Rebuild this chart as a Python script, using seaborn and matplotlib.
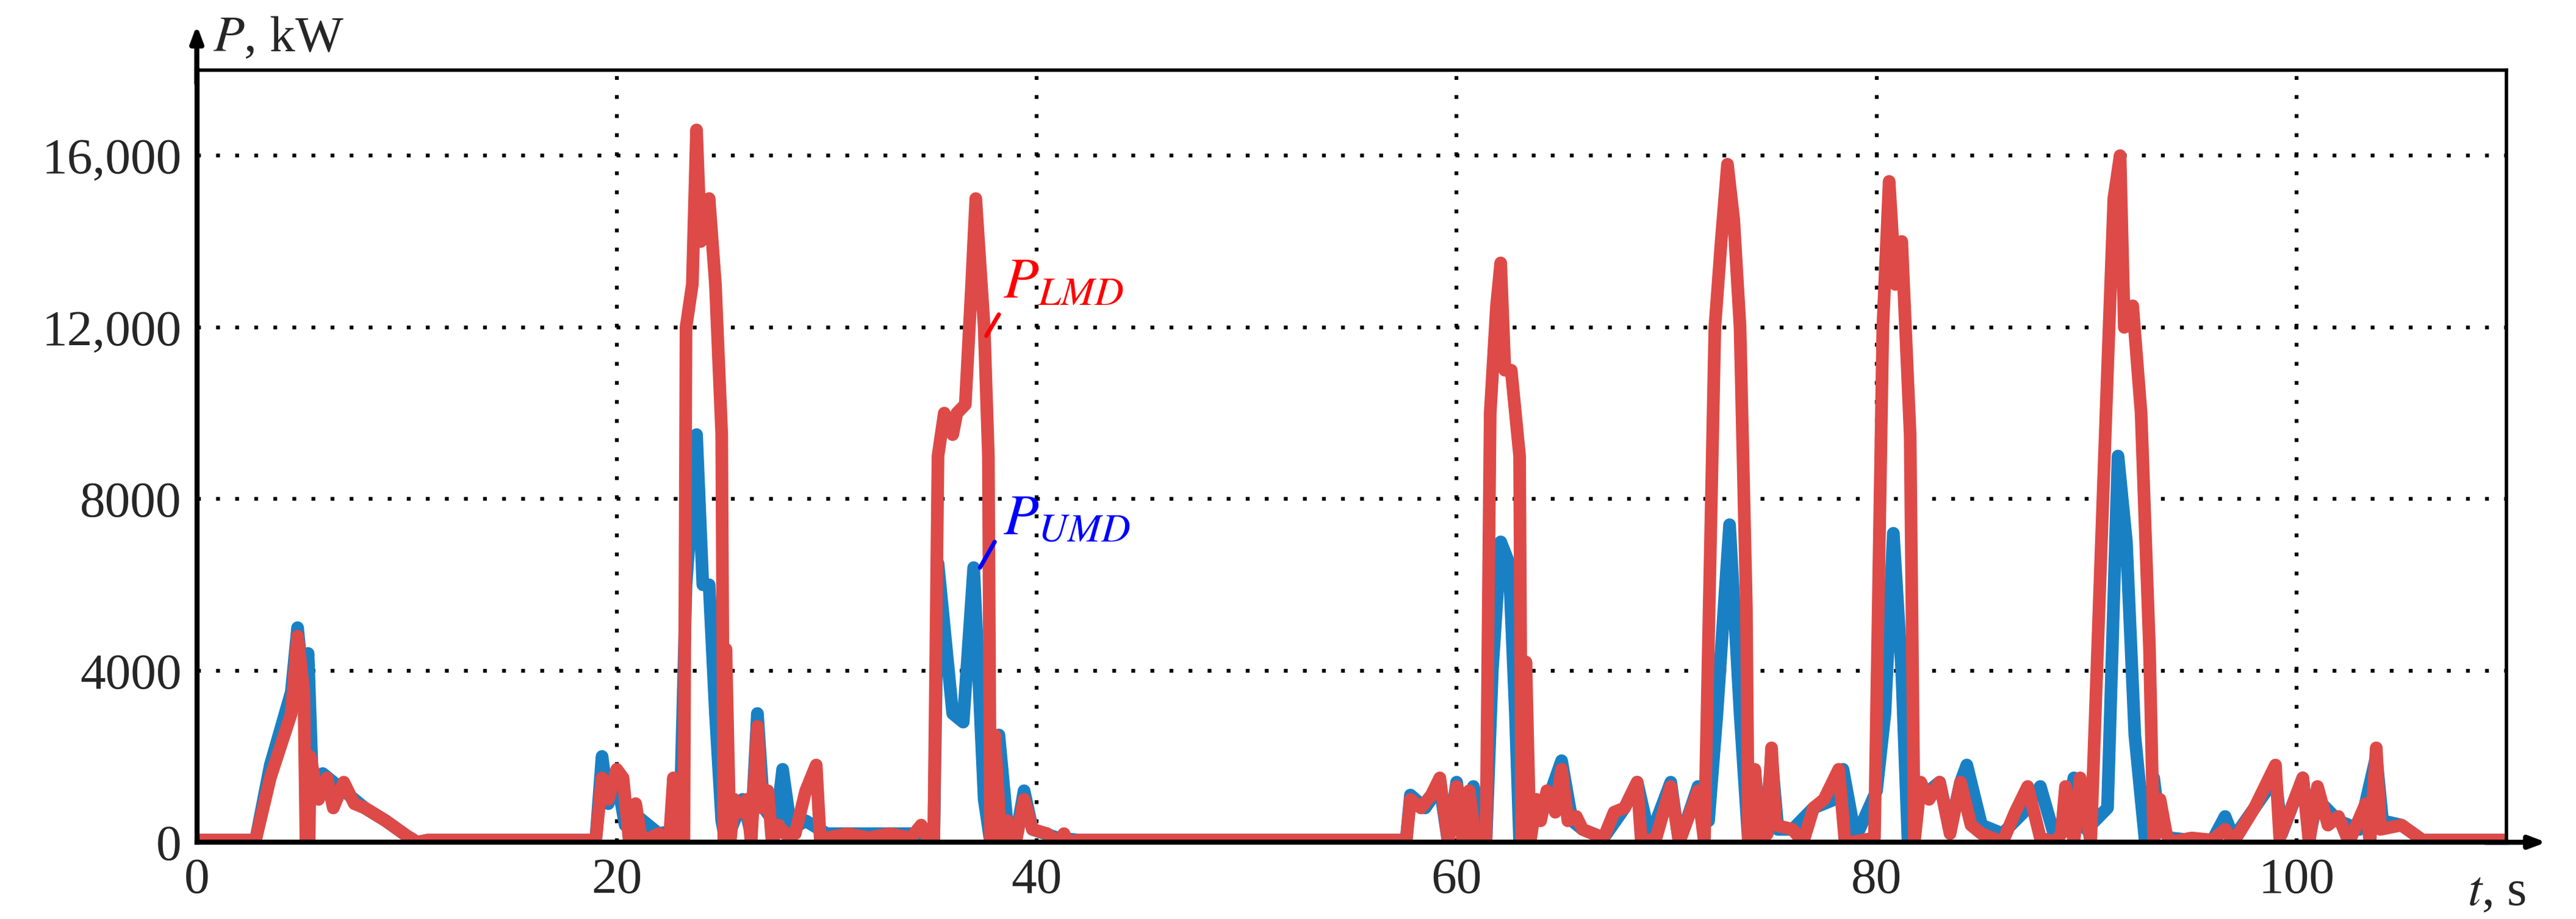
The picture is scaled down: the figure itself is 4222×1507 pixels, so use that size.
import numpy as np
import pandas as pd
import matplotlib
matplotlib.use('Agg')
import matplotlib.pyplot as plt
import seaborn as sns

# LMD power (red)
t_lmd = [0, 2.8, 3.5, 4.5, 4.8, 5.1, 5.2, 5.35, 5.4, 5.8, 6.2, 6.5, 7, 7.5, 8, 9, 10, 10.5, 11,
         19, 19.3, 19.6, 20, 20.3, 20.6, 20.9, 21.2, 22, 22.5, 22.7, 22.9, 23.2, 23.3, 23.6, 23.8, 24,
         24.2, 24.4, 24.7, 25, 25.1, 25.2, 25.4, 25.6, 25.9, 26.2, 26.4, 26.7, 26.9, 27.2, 27.4, 27.7,
         28, 28.5, 29, 29.5, 29.7, 30, 31, 32, 33, 34, 34.5, 34.8, 35.1, 35.3, 35.6, 36, 36.2, 36.6,
         36.9, 37.1, 37.3, 37.5, 37.7, 37.8, 38, 38.3, 38.6, 39, 39.4, 39.8, 40.5, 41, 41.3, 41.5, 42,
         57.6, 57.8, 58.3, 58.8, 59.2, 59.6, 60, 60.3, 60.6, 60.9, 61.4, 61.6, 61.9, 62.1, 62.3, 62.6,
         63, 63.1, 63.3, 63.5, 63.8, 64, 64.3, 64.7, 65, 65.3, 65.7, 66, 67, 67.5, 68, 68.6, 68.8,
         69.5, 70.2, 70.6, 71.5, 71.8, 72.3, 72.6, 72.9, 73.2, 73.5, 73.8, 73.9, 74.2, 74.5, 74.8, 75,
         75.2, 76, 76.5, 77, 77.5, 78.2, 78.5, 78.8, 79.9, 80.3, 80.6, 80.9, 81.2, 81.6, 81.8, 82.1,
         82.5, 83, 83.5, 84, 84.5, 85, 86, 86.6, 87.2, 87.8, 88.5, 88.8, 89, 89.4, 89.7, 90.2, 91,
         91.3, 91.6, 91.8, 92.2, 92.6, 93, 93.2, 93.5, 93.8, 94, 95, 96, 96.6, 97, 98, 99, 99.2,
         100.3, 100.6, 101, 101.5, 102, 102.5, 103.3, 103.5, 103.8, 104, 105, 106, 110]
p_lmd = [50, 50, 1500, 3000, 4800, 3500, 0, 0, 2000, 1000, 1500, 800, 1400, 900, 800, 500, 150, 0, 50,
         50, 1500, 1000, 1700, 1500, 0, 900, 0, 200, 0, 1500, 0, 0, 12000, 13000, 16600, 14000,
         14500, 15000, 13000, 9500, 0, 4500, 0, 1000, 700, 1000, 0, 2700, 800, 1200, 0, 400,
         200, 200, 1200, 1800, 0, 100, 200, 100, 200, 100, 400, 100, 100, 9000, 10000, 9500, 10000, 10200,
         13000, 15000, 13500, 12000, 9000, 0, 2500, 0, 500, 0, 1000, 300, 200, 0, 200, 0, 50,
         50, 1000, 800, 1100, 1500, 0, 1300, 0, 1200, 0, 0, 10000, 12500, 13500, 11000, 11000,
         9000, 0, 4200, 0, 1000, 500, 1200, 700, 1700, 500, 600, 300, 100, 700, 800, 1400, 0,
         100, 1300, 0, 1200, 0, 12000, 14000, 15800, 14500, 12000, 5500, 0, 1700, 0, 200, 2200,
         400, 300, 0, 800, 1000, 1700, 0, 0, 100, 12000, 15400, 13000, 14000, 9500, 0, 1400,
         1000, 1400, 200, 1400, 400, 200, 0, 700, 1300, 100, 0, 200, 1300, 0, 1500, 0, 11000,
         15000, 16000, 12000, 12500, 10000, 4500, 0, 1000, 200, 0, 100, 50, 300, 0, 800, 1800, 100,
         1500, 0, 1300, 400, 600, 0, 900, 0, 2200, 300, 400, 50, 50]

# UMD power (blue)
t_umd = [0, 2.8, 3.5, 4.5, 4.8, 5.1, 5.3, 5.5, 6, 7, 8, 9, 10, 10.5, 11,
         19, 19.3, 19.6, 20, 20.4, 21, 22, 23, 23.3, 23.6, 23.8, 24.1, 24.4, 24.7, 25, 25.2,
         26, 26.4, 26.7, 27, 27.6, 27.9, 28.3, 29, 30, 34, 35.1, 35.3, 35.6, 36, 36.5, 37, 37.5, 37.8,
         38.2, 38.6, 39, 39.4, 39.8, 41, 42,
         57.6, 57.8, 58.5, 59.2, 59.6, 60, 60.4, 60.8, 61.4, 61.7, 62.1, 62.5, 62.8, 63, 63.5, 64,
         64.5, 65, 65.5, 66, 67, 68, 68.6, 69.2, 70.2, 70.6, 71.5, 72, 72.4, 73, 73.5, 73.9, 74.3,
         74.7, 75, 75.3, 76, 77, 78, 78.4, 79, 80, 80.4, 80.8, 81.2, 81.5, 82, 82.5, 83, 83.5, 84,
         84.3, 85, 86, 87, 87.8, 88.5, 89, 89.4, 90, 91, 91.5, 91.9, 92.3, 92.8, 93.2, 93.5, 94,
         95, 96, 96.6, 97, 98, 99, 99.3, 100.3, 100.6, 101, 102, 103, 103.8, 104.1, 105, 106, 110]
p_umd = [50, 50, 1800, 3500, 5000, 3500, 4400, 1500, 1600, 1200, 800, 500, 150, 0, 50,
         50, 2000, 900, 1500, 400, 600, 200, 300, 6000, 8000, 9500, 6000, 6000, 3000, 500, 0,
         1000, 200, 3000, 800, 400, 1700, 300, 500, 200, 200, 100, 6500, 5000, 3000, 2800, 6400, 1000, 0,
         2500, 400, 100, 1200, 300, 100, 50,
         50, 1100, 800, 1300, 0, 1400, 0, 1300, 0, 4000, 7000, 6500, 3000, 0, 1000, 700,
         1200, 1900, 500, 300, 100, 800, 1400, 100, 1400, 0, 1300, 500, 3000, 7400, 3000, 0, 1000,
         200, 2000, 300, 300, 800, 1000, 1700, 100, 1200, 3000, 7200, 4000, 0, 1000, 1200, 1400,
         300, 1400, 1800, 400, 200, 700, 1300, 100, 300, 1500, 300, 800, 9000, 7000, 2500, 0, 1500,
         300, 100, 50, 50, 600, 100, 800, 1500, 200, 1500, 100, 1000, 500, 300, 2000, 500, 400, 50, 50]

df_u = pd.DataFrame({'t': t_umd, 'P': p_umd})
df_l = pd.DataFrame({'t': t_lmd, 'P': p_lmd})

sns.set_style('white')
plt.rcParams['font.family'] = ['Liberation Serif', 'DejaVu Serif']
plt.rcParams['mathtext.fontset'] = 'stix'

fig, ax = plt.subplots(figsize=(42.22, 15.07), dpi=100)
fig.subplots_adjust(left=0.0764, right=0.973, top=0.924, bottom=0.0835)

sns.lineplot(data=df_u, x='t', y='P', ax=ax, color='#1a80c4', linewidth=15, estimator=None, sort=False)
sns.lineplot(data=df_l, x='t', y='P', ax=ax, color='#de4a47', linewidth=15, estimator=None, sort=False)

ax.set_xlim(0, 110)
ax.set_ylim(0, 18000)
ax.set_xticks([0, 20, 40, 60, 80, 100])
ax.set_yticks([0, 4000, 8000, 12000, 16000])
ax.set_yticklabels(['0', '4000', '8000', '12,000', '16,000'])
ax.tick_params(labelsize=60, length=0, pad=18)
ax.grid(True, linestyle=(0, (1, 4)), color='black', linewidth=4.5)
ax.set_xlabel('')
ax.set_ylabel('')
for s in ax.spines.values():
    s.set_color('black')
    s.set_linewidth(4)
ax.spines['left'].set_linewidth(6)
ax.spines['bottom'].set_linewidth(6)

# axis arrows
ax.annotate('', xy=(0, 1.06), xytext=(0, 0.98), xycoords='axes fraction',
            arrowprops=dict(arrowstyle='-|>,head_length=1.6,head_width=0.6', color='black', lw=6),
            annotation_clip=False)
ax.annotate('', xy=(1.018, 0), xytext=(0.99, 0), xycoords='axes fraction',
            arrowprops=dict(arrowstyle='-|>,head_length=1.6,head_width=0.6', color='black', lw=6),
            annotation_clip=False)
ax.text(0.007, 1.04, '$P$, kW', transform=ax.transAxes, fontsize=60, va='center', ha='left')
ax.text(0.983, -0.065, '$t$, s', transform=ax.transAxes, fontsize=60, va='center', ha='left')

# series labels
ax.plot([37.6, 38.2], [11800, 12300], color='red', lw=5)
ax.text(38.4, 12400, r'$P_{LMD}$', color='red', fontsize=68, va='bottom')
ax.plot([37.3, 38.0], [6400, 7000], color='blue', lw=5)
ax.text(38.4, 6900, r'$P_{UMD}$', color='blue', fontsize=68, va='bottom')

fig.savefig('out.png')
